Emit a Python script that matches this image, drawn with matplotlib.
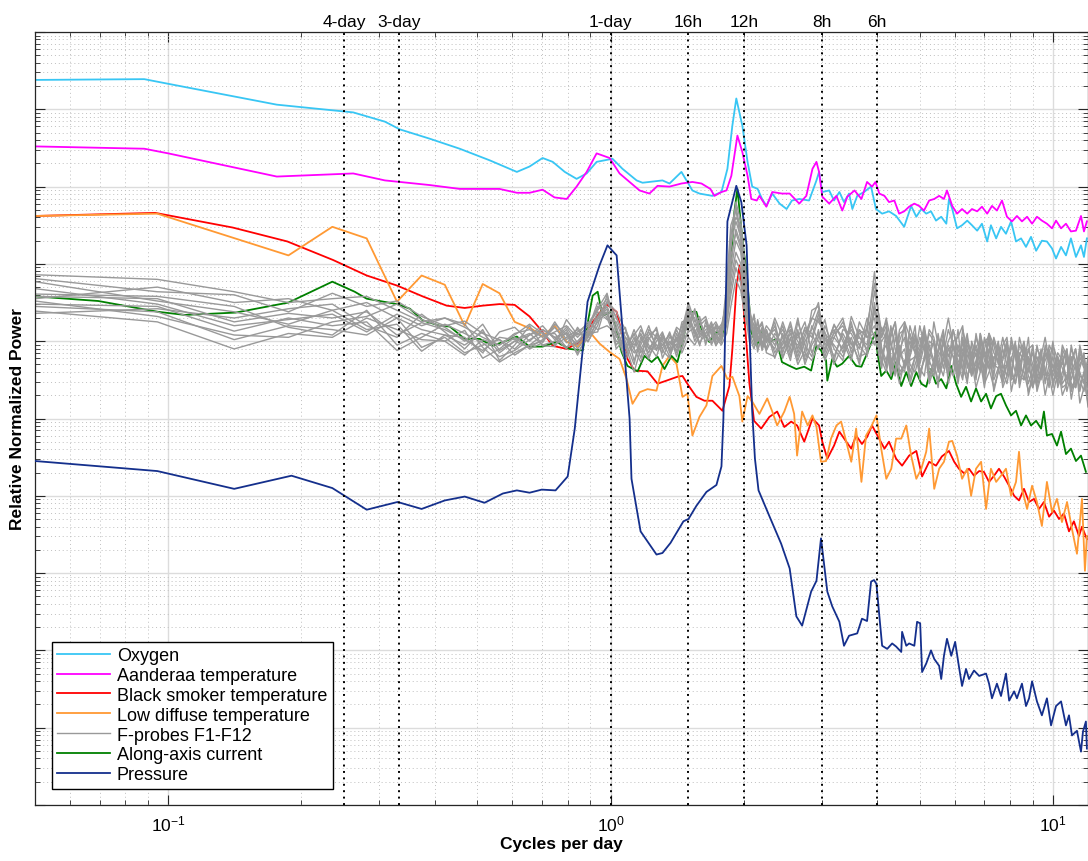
import numpy as np
import matplotlib
matplotlib.use('Agg')
import matplotlib.pyplot as plt
from matplotlib.ticker import LogLocator, NullFormatter, FixedLocator

# spectra: frequency in cycles per day, power as log10(relative normalized power)
oxygen_freq = [0.050, 0.0883, 0.100, 0.176, 0.262, 0.309, 0.334, 0.390, 0.456, 0.533,
	0.614, 0.656, 0.702, 0.740, 0.788, 0.838, 0.883, 0.930, 1.010, 1.064,
	1.145, 1.181, 1.310, 1.359, 1.446, 1.531, 1.588, 1.699, 1.781, 1.837,
	1.885, 1.924, 1.985, 2.04, 2.09, 2.15, 2.20, 2.25, 2.32, 2.41,
	2.50, 2.57, 2.67, 2.81, 2.92, 2.96, 3.01, 3.12, 3.20, 3.29,
	3.37, 3.46, 3.52, 3.61, 3.74, 3.88, 3.98, 4.11, 4.26, 4.42,
	4.61, 4.78, 4.91, 5.04, 5.17, 5.30, 5.44, 5.59, 5.74, 5.82,
	5.92, 6.07, 6.23, 6.40, 6.56, 6.74, 6.91, 7.10, 7.24, 7.44,
	7.63, 7.83, 8.04, 8.25, 8.47, 8.69, 8.92, 9.16, 9.44, 9.69,
	9.95, 10.16, 10.43, 10.70, 10.98, 11.27, 11.57, 11.75, 11.93]
oxygen_log10p = [-0.62, -0.61, -0.67, -0.94, -1.04, -1.16, -1.26, -1.38, -1.51, -1.66,
	-1.81, -1.74, -1.63, -1.68, -1.81, -1.90, -1.83, -1.68, -1.64, -1.77,
	-1.92, -1.95, -1.92, -1.96, -1.81, -2.05, -2.09, -2.12, -2.07, -1.77,
	-1.21, -0.86, -1.21, -1.68, -2.00, -2.03, -2.16, -2.25, -2.09, -2.22,
	-2.29, -2.18, -2.16, -2.18, -1.92, -1.81, -2.07, -2.05, -2.18, -2.07,
	-2.20, -2.09, -2.29, -2.12, -2.07, -2.00, -2.29, -2.35, -2.32, -2.38,
	-2.52, -2.25, -2.39, -2.29, -2.35, -2.32, -2.44, -2.39, -2.48, -2.16,
	-2.29, -2.54, -2.50, -2.44, -2.50, -2.57, -2.48, -2.71, -2.50, -2.67,
	-2.52, -2.61, -2.45, -2.71, -2.67, -2.78, -2.65, -2.83, -2.70, -2.71,
	-2.80, -2.93, -2.78, -2.89, -2.67, -2.91, -2.76, -2.91, -2.67]

aanderaa_freq = [0.050, 0.0883, 0.100, 0.176, 0.262, 0.309, 0.334, 0.390, 0.456, 0.561,
	0.614, 0.656, 0.702, 0.747, 0.796, 0.838, 0.883, 0.930, 0.995, 1.048,
	1.104, 1.163, 1.224, 1.277, 1.359, 1.446, 1.531, 1.605, 1.681, 1.717,
	1.781, 1.828, 1.875, 1.935, 1.985, 2.04, 2.08, 2.14, 2.17, 2.25,
	2.32, 2.44, 2.54, 2.67, 2.77, 2.86, 2.92, 2.96, 3.01, 3.12,
	3.24, 3.34, 3.43, 3.56, 3.69, 3.80, 3.90, 3.97, 4.05, 4.16,
	4.26, 4.38, 4.49, 4.61, 4.73, 4.86, 4.98, 5.11, 5.25, 5.39,
	5.53, 5.67, 5.76, 5.92, 6.07, 6.23, 6.40, 6.56, 6.74, 6.91,
	7.10, 7.28, 7.47, 7.67, 7.87, 8.08, 8.29, 8.51, 8.74, 8.97,
	9.20, 9.44, 9.69, 9.95, 10.16, 10.43, 10.70, 10.98, 11.27, 11.57,
	11.75, 11.93]
aanderaa_log10p = [-1.48, -1.51, -1.57, -1.87, -1.83, -1.92, -1.94, -1.98, -2.03, -2.03,
	-2.08, -2.08, -2.04, -2.14, -2.16, -2.00, -1.81, -1.57, -1.63, -1.83,
	-1.94, -2.05, -2.09, -1.99, -2.00, -1.96, -1.94, -1.96, -2.03, -2.12,
	-2.07, -2.05, -1.86, -1.34, -1.55, -1.86, -2.16, -2.18, -2.12, -2.26,
	-2.07, -2.09, -2.09, -2.22, -2.12, -1.77, -1.68, -1.81, -2.13, -2.22,
	-2.12, -2.31, -2.13, -2.05, -2.16, -1.94, -2.00, -1.94, -2.09, -2.12,
	-2.20, -2.18, -2.35, -2.32, -2.26, -2.22, -2.25, -2.31, -2.18, -2.16,
	-2.12, -2.16, -2.05, -2.25, -2.35, -2.29, -2.35, -2.29, -2.32, -2.26,
	-2.35, -2.25, -2.31, -2.18, -2.39, -2.45, -2.38, -2.45, -2.39, -2.48,
	-2.39, -2.44, -2.48, -2.54, -2.44, -2.54, -2.48, -2.58, -2.57, -2.38,
	-2.58, -2.45]

smoker_freq = [0.050, 0.0935, 0.140, 0.186, 0.236, 0.281, 0.329, 0.376, 0.426, 0.468,
	0.514, 0.561, 0.607, 0.656, 0.702, 0.740, 0.796, 0.851, 0.911, 0.979,
	1.032, 1.059, 1.092, 1.133, 1.212, 1.277, 1.338, 1.416, 1.454, 1.507,
	1.563, 1.630, 1.699, 1.790, 1.856, 1.885, 1.924, 1.955, 1.985, 2.03,
	2.06, 2.09, 2.11, 2.19, 2.285, 2.38, 2.47, 2.56, 2.64, 2.74,
	2.86, 2.96, 3.01, 3.09, 3.20, 3.29, 3.41, 3.50, 3.59, 3.70,
	3.80, 3.90, 4.01, 4.16, 4.26, 4.42, 4.56, 4.73, 4.91, 5.06,
	5.25, 5.44, 5.61, 5.82, 5.98, 6.13, 6.30, 6.46, 6.63, 6.81,
	6.98, 7.17, 7.36, 7.55, 7.75, 7.96, 8.17, 8.38, 8.60, 8.83,
	9.06, 9.30, 9.54, 9.80, 10.05, 10.32, 10.59, 10.87, 11.15, 11.45,
	11.63, 11.93]
smoker_log10p = [-2.38, -2.34, -2.53, -2.71, -2.95, -3.15, -3.28, -3.42, -3.54, -3.57,
	-3.54, -3.52, -3.53, -3.68, -3.88, -4.06, -4.10, -4.01, -3.75, -3.52,
	-3.62, -3.88, -4.23, -4.38, -4.39, -4.55, -4.51, -4.46, -4.45, -4.59,
	-4.72, -4.77, -4.77, -4.90, -4.58, -4.10, -3.32, -3.02, -3.36, -4.06,
	-4.55, -4.83, -5.03, -5.13, -4.98, -4.91, -5.11, -5.04, -5.09, -5.30,
	-5.00, -5.09, -5.30, -5.52, -5.35, -5.17, -5.30, -5.39, -5.22, -5.33,
	-5.24, -5.09, -5.22, -5.39, -5.30, -5.52, -5.61, -5.48, -5.42, -5.75,
	-5.56, -5.61, -5.49, -5.42, -5.56, -5.65, -5.71, -5.65, -5.74, -5.68,
	-5.69, -5.82, -5.74, -5.65, -5.75, -5.87, -6.00, -6.06, -5.91, -6.08,
	-6.04, -6.17, -6.08, -6.27, -6.19, -6.30, -6.23, -6.46, -6.33, -6.52,
	-6.40, -6.56]

diffuse_freq = [0.050, 0.0945, 0.187, 0.235, 0.281, 0.329, 0.374, 0.422, 0.468, 0.514,
	0.561, 0.607, 0.667, 0.702, 0.747, 0.796, 0.842, 0.897, 0.944, 0.995,
	1.048, 1.087, 1.121, 1.163, 1.212, 1.270, 1.310, 1.359, 1.409, 1.454,
	1.492, 1.531, 1.588, 1.647, 1.699, 1.781, 1.837, 1.885, 1.955, 1.985,
	2.04, 2.09, 2.17, 2.26, 2.32, 2.38, 2.47, 2.54, 2.60, 2.64,
	2.71, 2.79, 2.86, 2.92, 2.99, 3.07, 3.15, 3.24, 3.32, 3.41,
	3.50, 3.59, 3.69, 3.78, 3.88, 3.99, 4.09, 4.20, 4.31, 4.42,
	4.54, 4.66, 4.78, 4.91, 5.04, 5.17, 5.25, 5.39, 5.53, 5.67,
	5.82, 5.92, 6.07, 6.23, 6.40, 6.53, 6.70, 6.88, 7.06, 7.24,
	7.44, 7.63, 7.83, 8.04, 8.25, 8.38, 8.51, 8.74, 8.97, 9.20,
	9.44, 9.69, 9.95, 10.21, 10.48, 10.76, 11.04, 11.33, 11.63, 11.81,
	11.93]
diffuse_log10p = [-2.38, -2.35, -2.89, -2.52, -2.67, -3.49, -3.15, -3.27, -3.80, -3.26,
	-3.38, -3.75, -3.85, -3.94, -3.80, -4.01, -4.07, -3.88, -4.03, -4.14,
	-4.23, -4.49, -4.81, -4.66, -4.62, -4.64, -4.32, -4.19, -4.29, -4.72,
	-4.68, -5.22, -4.98, -4.83, -4.45, -4.32, -4.49, -4.46, -4.71, -5.04,
	-4.71, -4.78, -4.94, -4.74, -4.91, -5.09, -4.91, -4.72, -4.94, -5.48,
	-4.91, -5.09, -4.96, -5.11, -5.56, -5.55, -5.26, -5.09, -5.04, -5.30,
	-5.56, -5.13, -5.82, -5.22, -5.11, -4.96, -5.39, -5.78, -5.65, -5.26,
	-5.26, -5.09, -5.48, -5.78, -5.65, -5.43, -5.13, -5.91, -5.65, -5.56,
	-5.30, -5.29, -5.48, -5.78, -5.65, -6.00, -5.65, -5.56, -6.17, -5.65,
	-5.82, -5.74, -5.65, -6.00, -5.82, -5.43, -5.91, -6.17, -5.87, -6.08,
	-6.39, -5.82, -6.21, -6.04, -6.34, -6.08, -6.43, -6.75, -6.04, -6.97,
	-6.52]

current_freq = [0.050, 0.0695, 0.0949, 0.109, 0.142, 0.187, 0.235, 0.264, 0.281, 0.329,
	0.352, 0.376, 0.411, 0.433, 0.468, 0.506, 0.541, 0.571, 0.614, 0.656,
	0.702, 0.755, 0.808, 0.865, 0.911, 0.935, 0.959, 1.005, 1.032, 1.059,
	1.092, 1.151, 1.193, 1.238, 1.277, 1.324, 1.373, 1.416, 1.454, 1.507,
	1.563, 1.613, 1.672, 1.735, 1.790, 1.856, 1.905, 1.935, 1.975, 1.996,
	2.03, 2.08, 2.14, 2.20, 2.285, 2.37, 2.44, 2.54, 2.63, 2.74,
	2.84, 2.92, 2.99, 3.07, 3.09, 3.17, 3.25, 3.34, 3.46, 3.59,
	3.69, 3.78, 3.88, 3.97, 4.01, 4.09, 4.20, 4.31, 4.42, 4.54,
	4.66, 4.78, 4.91, 5.04, 5.17, 5.30, 5.44, 5.59, 5.74, 5.89,
	6.04, 6.20, 6.36, 6.53, 6.70, 6.88, 7.06, 7.24, 7.44, 7.63,
	7.83, 8.04, 8.25, 8.47, 8.69, 8.92, 9.16, 9.40, 9.54, 9.69,
	9.95, 10.21, 10.43, 10.70, 10.98, 11.27, 11.57, 11.87]
current_log10p = [-3.42, -3.48, -3.62, -3.66, -3.63, -3.50, -3.23, -3.36, -3.45, -3.52,
	-3.58, -3.73, -3.80, -3.81, -3.97, -3.97, -4.06, -4.01, -3.94, -4.07,
	-4.07, -4.01, -4.10, -4.12, -3.41, -3.36, -3.67, -3.62, -3.88, -4.14,
	-4.32, -4.39, -4.19, -4.27, -4.20, -4.36, -4.19, -4.27, -4.01, -3.62,
	-3.62, -3.88, -4.01, -3.88, -3.94, -3.28, -2.32, -2.03, -2.54, -2.80,
	-3.10, -3.88, -4.06, -3.88, -4.01, -3.97, -4.27, -4.32, -4.36, -4.33,
	-4.38, -4.06, -4.12, -4.25, -4.51, -4.23, -4.33, -4.29, -4.19, -4.32,
	-4.33, -4.19, -4.03, -3.88, -4.14, -4.45, -4.38, -4.49, -4.27, -4.58,
	-4.40, -4.58, -4.40, -4.55, -4.59, -4.36, -4.55, -4.49, -4.61, -4.32,
	-4.55, -4.72, -4.59, -4.78, -4.61, -4.78, -4.68, -4.87, -4.71, -4.68,
	-4.83, -4.96, -4.90, -5.09, -4.96, -5.09, -5.03, -5.13, -4.91, -5.22,
	-5.20, -5.35, -5.17, -5.46, -5.39, -5.55, -5.48, -5.69]

pressure_freq = [0.050, 0.0945, 0.141, 0.190, 0.235, 0.281, 0.330, 0.374, 0.422, 0.468,
	0.519, 0.571, 0.614, 0.656, 0.699, 0.751, 0.800, 0.830, 0.887, 0.944,
	0.984, 1.032, 1.064, 1.104, 1.115, 1.169, 1.270, 1.310, 1.366, 1.461,
	1.500, 1.563, 1.647, 1.735, 1.781, 1.799, 1.837, 1.924, 1.975, 2.03,
	2.09, 2.12, 2.16, 2.30, 2.43, 2.54, 2.63, 2.71, 2.84, 2.92,
	2.99, 3.09, 3.17, 3.29, 3.37, 3.46, 3.61, 3.70, 3.80, 3.88,
	3.94, 3.99, 4.05, 4.11, 4.22, 4.33, 4.42, 4.54, 4.56, 4.66,
	4.73, 4.86, 4.93, 5.01, 5.06, 5.17, 5.30, 5.39, 5.53, 5.59,
	5.67, 5.76, 5.89, 6.01, 6.13, 6.23, 6.36, 6.46, 6.63, 6.81,
	7.06, 7.17, 7.28, 7.47, 7.63, 7.83, 7.96, 8.17, 8.29, 8.51,
	8.69, 8.83, 8.97, 9.20, 9.44, 9.69, 9.90, 10.16, 10.43, 10.70,
	10.87, 11.04, 11.33, 11.57, 11.69, 11.87, 11.93]
pressure_log10p = [-5.55, -5.68, -5.91, -5.74, -5.90, -6.18, -6.08, -6.17, -6.06, -6.01,
	-6.09, -5.97, -5.93, -5.96, -5.92, -5.93, -5.75, -5.13, -3.49, -3.02,
	-2.76, -2.89, -3.84, -5.00, -5.78, -6.46, -6.76, -6.74, -6.61, -6.33,
	-6.30, -6.13, -5.95, -5.86, -5.62, -5.00, -2.45, -1.99, -2.20, -2.76,
	-4.91, -5.52, -5.93, -6.30, -6.62, -6.94, -7.56, -7.68, -7.24, -7.10,
	-6.55, -7.24, -7.43, -7.63, -7.94, -7.81, -7.78, -7.59, -7.62, -7.11,
	-7.09, -7.14, -7.55, -7.94, -7.98, -7.91, -7.95, -8.02, -7.76, -7.94,
	-7.91, -7.94, -7.63, -7.65, -8.28, -8.17, -8.00, -8.11, -8.20, -8.37,
	-8.07, -7.85, -8.07, -7.89, -8.21, -8.46, -8.24, -8.37, -8.26, -8.33,
	-8.30, -8.43, -8.62, -8.43, -8.59, -8.30, -8.65, -8.53, -8.62, -8.43,
	-8.72, -8.62, -8.40, -8.66, -8.84, -8.62, -8.97, -8.72, -8.66, -8.97,
	-8.84, -9.10, -9.04, -9.31, -9.05, -8.92, -9.27]

# F-probes F1-F12 share one frequency grid (plus extra high-frequency samples)
fprobe_freq = [0.050, 0.0945, 0.141, 0.187, 0.235, 0.281, 0.329, 0.374, 0.422, 0.468,
	0.514, 0.561, 0.607, 0.656, 0.702, 0.748, 0.795, 0.842, 0.889, 0.935, 0.982,
	1.03, 1.08, 1.13, 1.17, 1.22, 1.27, 1.31, 1.36, 1.41, 1.45,
	1.50, 1.55, 1.59, 1.64, 1.69, 1.73, 1.78, 1.83, 1.87, 1.92,
	1.97, 2.01, 2.06, 2.11, 2.15, 2.20, 2.25,
	2.35, 2.45, 2.55, 2.65, 2.75, 2.85, 2.95, 3.05, 3.20, 3.35, 3.50, 3.65, 3.80, 3.95, 4.10,
	4.30, 4.50, 4.75, 5.00, 5.25, 5.50, 5.80, 6.10, 6.40, 6.70,
	7.00, 7.35, 7.70, 8.05, 8.40, 8.80, 9.20, 9.60, 10.0, 10.5,
	11.0, 11.5, 12.0]
fprobe_freq_extra = [4.20, 4.40, 4.62, 4.88, 5.12, 5.38, 5.65, 5.95, 6.25, 6.55,
	6.85, 7.17, 7.52, 7.87, 8.22, 8.60, 9.00, 9.40, 9.80, 10.25,
	10.75, 11.25, 11.75]

f1_log10p = [-3.14, -3.20, -3.36, -3.50, -3.45, -3.42, -3.60, -3.75, -3.70, -3.82, -3.95, -4.05, -3.90, -3.85, -3.95, -3.88, -3.80, -3.95, -3.80, -3.60, -3.45,
	-3.70, -3.95, -4.05, -3.90, -4.10, -3.95, -4.05, -3.92, -4.08, -3.90, -3.55, -3.80, -3.72, -3.95, -3.85, -3.98, -3.80, -3.50, -2.80, -2.25, -2.60, -3.20, -3.70, -3.85, -4.00, -3.82, -3.95,
	-3.85, -4.10, -3.90, -4.20, -3.95, -3.72, -3.50, -4.05, -3.85, -4.15, -3.80, -4.05, -3.90, -3.10, -4.10,
	-3.80, -4.25, -3.95, -4.35, -4.00, -4.40, -3.85, -4.30, -4.05, -4.45, -4.00, -4.30, -4.55, -4.10, -4.45, -4.20, -4.60, -4.15, -4.50, -4.25, -4.65, -4.30, -4.55]
f2_log10p = [-3.19, -3.36, -3.40, -3.62, -3.38, -3.55, -3.48, -3.68, -3.80, -3.74, -3.90, -3.98, -4.10, -3.92, -3.85, -3.95, -3.90, -4.05, -3.88, -3.70, -3.55,
	-3.85, -4.10, -3.90, -4.15, -3.95, -4.12, -3.90, -4.10, -3.85, -4.02, -3.70, -3.90, -3.75, -3.68, -3.92, -3.82, -3.95, -3.35, -2.60, -2.40, -2.50, -2.95, -3.55, -3.95, -3.75, -4.05, -3.88,
	-4.05, -3.80, -4.15, -3.90, -4.25, -4.00, -3.70, -3.95, -4.20, -3.90, -4.10, -3.85, -4.15, -3.55, -3.95,
	-4.20, -3.90, -4.40, -3.95, -4.30, -4.05, -4.45, -3.95, -4.35, -4.10, -4.50, -4.05, -4.25, -4.50, -4.15, -4.55, -4.20, -4.45, -4.15, -4.60, -4.25, -4.50, -4.35]
f3_log10p = [-3.23, -3.48, -3.62, -3.78, -3.60, -3.50, -3.70, -3.85, -3.92, -4.05, -3.88, -4.15, -4.00, -4.08, -3.98, -3.82, -4.02, -3.90, -3.95, -3.75, -3.62,
	-3.95, -3.82, -4.25, -4.00, -3.88, -4.05, -4.15, -3.95, -4.00, -3.80, -3.62, -3.70, -3.95, -3.85, -3.80, -4.02, -3.88, -3.60, -3.10, -2.70, -2.85, -3.40, -3.80, -3.70, -3.95, -3.90, -4.10,
	-3.70, -3.95, -4.25, -3.75, -4.05, -4.20, -3.85, -4.25, -3.95, -3.75, -4.02, -4.25, -3.80, -3.70, -4.30,
	-4.05, -4.45, -4.10, -4.50, -3.85, -4.25, -4.10, -4.55, -3.90, -4.30, -4.15, -4.60, -4.05, -4.40, -4.20, -4.35, -4.05, -4.70, -4.30, -4.10, -4.55, -4.20, -4.70]
f4_log10p = [-3.42, -3.45, -3.75, -3.64, -3.70, -3.62, -3.92, -3.76, -3.85, -3.98, -4.12, -3.95, -3.98, -3.90, -4.05, -4.00, -3.85, -4.10, -3.92, -3.68, -3.50,
	-3.68, -4.00, -4.30, -3.95, -4.15, -3.90, -4.00, -4.20, -3.95, -4.10, -3.85, -3.62, -3.85, -4.00, -3.95, -3.78, -4.00, -3.80, -3.30, -2.95, -3.10, -3.55, -3.90, -4.05, -3.85, -3.78, -4.15,
	-4.20, -4.00, -3.80, -4.10, -3.82, -3.90, -4.10, -3.80, -4.10, -4.25, -3.68, -3.95, -4.05, -3.35, -3.88,
	-4.35, -4.00, -4.25, -3.80, -4.45, -3.95, -4.30, -4.10, -4.50, -3.95, -4.35, -4.15, -4.45, -4.00, -4.55, -4.10, -4.45, -4.25, -4.60, -4.35, -4.05, -4.65, -4.25]
f5_log10p = [-3.52, -3.55, -3.87, -3.70, -3.80, -3.75, -4.12, -3.95, -3.78, -3.90, -4.02, -4.20, -4.12, -3.98, -3.88, -4.05, -3.95, -3.85, -4.00, -3.80, -3.40,
	-3.80, -4.20, -3.95, -4.22, -3.85, -3.95, -4.10, -3.88, -4.15, -3.95, -3.60, -3.95, -3.80, -3.72, -4.05, -3.92, -3.85, -3.45, -2.65, -2.20, -2.45, -3.05, -3.62, -3.80, -4.10, -3.95, -3.80,
	-3.95, -4.22, -3.95, -4.30, -4.12, -3.60, -3.55, -4.15, -3.78, -4.00, -4.25, -3.75, -3.95, -3.80, -4.15,
	-3.95, -4.30, -3.80, -4.20, -4.10, -4.50, -4.00, -4.20, -4.45, -4.15, -3.95, -4.50, -4.20, -4.65, -4.05, -4.45, -4.30, -4.05, -4.45, -4.70, -4.30, -4.45, -4.80]
f6_log10p = [-3.55, -3.62, -3.98, -3.80, -3.85, -3.92, -3.70, -4.08, -3.95, -4.15, -4.05, -3.98, -4.18, -4.05, -3.92, -3.90, -4.08, -4.00, -3.85, -3.55, -3.65,
	-4.05, -3.88, -4.10, -3.85, -4.05, -4.20, -3.95, -4.05, -3.82, -3.88, -3.75, -3.85, -4.02, -3.90, -3.85, -3.88, -3.78, -3.70, -3.00, -2.55, -2.75, -3.35, -3.75, -3.90, -3.82, -4.12, -3.95,
	-4.10, -3.75, -4.05, -3.95, -3.75, -4.15, -3.95, -3.72, -4.25, -3.85, -3.90, -4.10, -3.70, -3.95, -4.00,
	-4.25, -4.10, -4.50, -4.05, -4.25, -4.15, -4.55, -3.85, -4.20, -4.50, -4.25, -3.95, -4.40, -4.25, -4.60, -3.95, -4.35, -4.55, -4.00, -4.40, -4.75, -4.10, -4.50]
f7_log10p = [-3.61, -3.75, -4.10, -3.90, -3.95, -3.70, -3.85, -3.98, -4.00, -3.86, -4.22, -4.10, -3.95, -4.10, -4.02, -3.78, -3.92, -4.15, -3.95, -3.62, -3.72,
	-3.75, -4.05, -4.40, -4.10, -3.92, -3.85, -4.22, -4.00, -4.12, -3.85, -3.50, -3.75, -3.68, -4.05, -3.78, -4.05, -3.95, -3.25, -2.50, -2.30, -2.70, -3.10, -3.95, -4.10, -3.90, -3.85, -4.02,
	-3.80, -4.15, -3.85, -4.25, -4.00, -3.85, -3.60, -4.00, -3.95, -4.10, -3.75, -4.20, -4.15, -3.50, -4.25,
	-4.10, -4.40, -4.00, -4.45, -3.90, -4.35, -4.20, -4.40, -4.10, -4.25, -4.55, -4.20, -3.95, -4.50, -4.35, -4.65, -4.10, -4.40, -4.70, -4.15, -4.40, -4.80, -4.30]
f8_log10p = [-3.64, -3.58, -3.70, -3.58, -3.52, -3.80, -3.95, -3.65, -3.88, -4.10, -3.85, -4.25, -4.05, -3.80, -4.06, -4.07, -3.72, -3.92, -3.75, -3.85, -3.80,
	-3.90, -4.25, -4.00, -3.92, -4.20, -4.00, -3.88, -4.15, -3.95, -4.15, -3.95, -4.05, -3.92, -3.80, -3.88, -3.95, -4.05, -3.90, -3.55, -3.20, -3.35, -3.65, -3.88, -3.65, -4.00, -3.95, -3.85,
	-4.22, -3.90, -4.20, -3.85, -4.30, -4.05, -3.90, -4.20, -3.88, -3.70, -4.15, -3.90, -3.85, -4.05, -3.82,
	-4.45, -3.85, -4.30, -4.15, -4.50, -3.90, -4.10, -4.50, -4.25, -3.90, -4.40, -4.35, -4.60, -4.20, -3.95, -4.40, -4.65, -4.20, -4.35, -4.55, -4.20, -4.35, -4.60]
f9_log10p = [-3.45, -3.30, -3.50, -3.45, -3.60, -3.85, -3.78, -4.13, -3.92, -3.95, -4.15, -3.88, -3.82, -4.00, -3.85, -3.95, -4.10, -3.82, -4.01, -3.72, -3.58,
	-4.10, -3.95, -4.15, -4.05, -3.80, -4.10, -4.05, -3.90, -4.20, -3.95, -3.80, -3.58, -3.90, -3.95, -4.02, -3.80, -3.85, -3.55, -2.90, -2.60, -2.80, -3.25, -3.70, -4.00, -3.72, -4.00, -4.12,
	-3.90, -4.05, -3.75, -4.15, -3.90, -3.70, -3.75, -3.88, -4.30, -4.05, -3.85, -4.05, -4.20, -3.60, -4.10,
	-3.90, -4.20, -4.55, -4.10, -4.35, -4.20, -3.70, -4.35, -4.00, -4.60, -4.10, -4.45, -4.30, -3.95, -4.50, -4.25, -4.40, -3.95, -4.55, -4.30, -4.60, -4.15, -4.40]
f10_log10p = [-3.39, -3.42, -3.55, -3.82, -3.92, -3.60, -4.05, -3.90, -4.00, -4.18, -3.98, -4.05, -3.92, -3.78, -3.90, -4.05, -3.88, -4.18, -3.90, -3.88, -3.48,
	-3.62, -3.85, -4.10, -4.27, -3.98, -3.82, -4.12, -4.22, -3.90, -4.05, -3.65, -3.88, -4.06, -3.75, -3.90, -4.06, -3.92, -3.65, -3.20, -2.85, -3.00, -3.45, -3.82, -3.78, -4.14, -3.88, -3.92,
	-4.00, -3.85, -4.10, -3.70, -4.15, -4.25, -4.05, -4.10, -3.80, -3.95, -4.20, -3.85, -3.95, -3.90, -4.35,
	-4.30, -4.05, -4.20, -4.40, -4.05, -4.60, -4.30, -4.05, -4.55, -4.20, -4.45, -4.00, -4.50, -4.35, -4.30, -4.70, -4.25, -4.50, -4.20, -4.05, -4.50, -4.60, -4.85]
f11_log10p = [-3.32, -3.52, -3.80, -3.72, -3.65, -3.88, -3.65, -3.80, -3.70, -3.78, -4.08, -4.27, -4.15, -4.05, -4.00, -3.75, -3.98, -3.88, -3.78, -3.58, -3.38,
	-3.92, -4.15, -3.85, -4.08, -4.23, -3.92, -3.98, -4.02, -4.05, -3.75, -3.72, -4.00, -3.85, -3.90, -3.75, -3.92, -4.02, -3.40, -2.75, -2.45, -2.65, -3.15, -3.62, -3.95, -3.85, -3.75, -4.00,
	-3.75, -4.20, -3.98, -4.05, -3.85, -3.95, -3.65, -3.90, -4.05, -4.20, -3.95, -4.30, -3.80, -3.25, -3.95,
	-4.00, -4.55, -4.15, -4.30, -4.55, -4.10, -4.40, -4.25, -3.95, -4.40, -4.20, -4.65, -4.10, -4.45, -4.25, -4.10, -4.50, -4.35, -4.05, -4.50, -4.35, -4.05, -4.45]
f12_log10p = [-3.48, -3.68, -3.92, -3.95, -3.75, -3.68, -3.52, -3.72, -3.82, -4.00, -3.78, -4.12, -4.00, -3.92, -3.80, -3.98, -3.82, -4.02, -3.85, -3.50, -3.70,
	-4.00, -4.05, -3.92, -3.80, -4.10, -4.10, -3.92, -4.12, -3.98, -4.00, -3.88, -3.82, -3.72, -3.95, -3.82, -3.75, -3.90, -3.75, -3.40, -3.05, -3.25, -3.60, -4.00, -3.88, -3.95, -4.08, -3.85,
	-4.15, -3.95, -3.85, -4.00, -4.20, -3.80, -4.00, -4.10, -3.90, -3.80, -4.05, -3.95, -4.10, -4.00, -4.15,
	-4.40, -4.15, -3.90, -4.25, -4.20, -4.35, -4.05, -4.45, -4.30, -4.05, -4.60, -4.25, -4.35, -4.05, -4.40, -4.30, -4.55, -4.10, -4.40, -4.25, -4.10, -4.40, -4.20]

# values at fprobe_freq_extra
f1_extra = [-4.35, -4.10, -3.75, -4.15, -4.45, -4.05, -4.20, -4.05, -4.50, -4.15, -4.25, -3.95, -4.35, -4.30, -4.05, -4.50, -4.35, -4.40, -4.25, -4.45, -4.10, -4.45, -4.20]
f2_extra = [-3.80, -4.45, -3.85, -4.20, -4.10, -3.75, -4.20, -4.00, -3.80, -4.20, -4.30, -3.90, -4.30, -4.00, -4.45, -4.25, -4.35, -4.40, -4.05, -4.30, -4.55, -4.10, -4.65]
f3_extra = [-3.85, -4.20, -4.30, -3.80, -4.20, -3.95, -4.45, -4.20, -4.15, -4.40, -3.90, -4.35, -4.40, -3.95, -4.55, -4.00, -4.50, -4.30, -4.45, -4.55, -4.25, -4.60, -4.35]
f4_extra = [-3.75, -4.15, -3.80, -4.20, -4.05, -4.25, -4.15, -3.85, -4.35, -4.20, -4.15, -3.90, -4.25, -4.30, -4.15, -4.35, -4.05, -4.40, -4.15, -4.20, -4.50, -4.35, -4.40]
f5_extra = [-4.30, -3.75, -4.40, -4.05, -3.85, -4.30, -4.25, -3.85, -4.10, -4.30, -4.40, -4.20, -4.35, -4.00, -4.40, -4.20, -4.60, -4.50, -4.20, -4.30, -4.55, -4.10, -4.50]
f6_extra = [-3.90, -4.40, -3.95, -4.20, -3.80, -4.40, -3.90, -4.30, -4.45, -4.05, -3.95, -4.35, -4.15, -4.55, -4.00, -4.30, -4.60, -4.10, -4.30, -4.60, -4.25, -4.45, -4.30]
f7_extra = [-4.40, -3.85, -4.30, -4.15, -4.20, -4.00, -3.95, -4.00, -3.85, -4.45, -4.00, -4.40, -4.25, -4.20, -4.05, -4.40, -4.45, -4.20, -4.45, -4.40, -4.65, -4.25, -4.60]
f8_extra = [-4.00, -4.20, -3.75, -4.40, -3.90, -4.30, -4.35, -4.05, -3.95, -4.45, -4.20, -4.10, -4.05, -4.45, -4.40, -4.20, -4.05, -4.45, -4.10, -4.20, -4.45, -4.60, -4.15]
f9_extra = [-4.25, -3.75, -4.10, -4.30, -3.85, -4.45, -4.05, -4.05, -4.20, -4.25, -4.40, -3.90, -4.05, -4.45, -4.20, -4.05, -4.60, -4.20, -4.25, -4.35, -4.10, -4.50, -4.30]
f10_extra = [-3.90, -4.40, -4.35, -3.95, -4.25, -4.25, -4.00, -4.45, -4.25, -4.00, -4.05, -4.25, -4.20, -4.05, -4.55, -4.10, -4.45, -4.15, -4.40, -4.55, -4.20, -4.30, -4.40]
f11_extra = [-3.70, -4.30, -4.25, -3.90, -4.05, -4.35, -3.85, -4.05, -4.35, -4.20, -3.90, -4.00, -4.40, -4.30, -4.05, -4.50, -4.30, -4.20, -4.60, -4.25, -4.15, -4.60, -4.30]
f12_extra = [-4.05, -3.95, -4.30, -4.10, -3.95, -4.00, -4.25, -4.20, -4.00, -4.30, -4.25, -4.10, -4.00, -4.30, -4.20, -4.10, -4.15, -4.35, -4.30, -4.15, -4.50, -4.25, -4.55]

fprobe_main = [f1_log10p, f2_log10p, f3_log10p, f4_log10p, f5_log10p, f6_log10p,
	f7_log10p, f8_log10p, f9_log10p, f10_log10p, f11_log10p, f12_log10p]
fprobe_extra = [f1_extra, f2_extra, f3_extra, f4_extra, f5_extra, f6_extra,
	f7_extra, f8_extra, f9_extra, f10_extra, f11_extra, f12_extra]

# tidal / inertial periods marked on top
period_freq = [0.25, 0.3333, 1.0, 1.5, 2.0, 3.0, 4.0]
period_labels = ['4-day', '3-day', '1-day', '16h', '12h', '8h', '6h']

legend_labels = ['Oxygen', 'Aanderaa temperature', 'Black smoker temperature',
	'Low diffuse temperature', 'F-probes F1-F12', 'Along-axis current', 'Pressure']


def draw(ax, freq, logp, color, lw, z):
	n = min(len(freq), len(logp))
	f = np.array(freq[:n])
	p = 10.0 ** np.array(logp[:n])
	order = np.argsort(f, kind='stable')
	return ax.plot(f[order], p[order], color=color, lw=lw, zorder=z, solid_joinstyle='round')[0]


def main():
	plt.rcParams['font.family'] = ['Liberation Sans', 'DejaVu Sans']
	plt.rcParams['mathtext.fontset'] = 'custom'
	plt.rcParams['mathtext.rm'] = 'Liberation Sans'
	plt.rcParams['mathtext.it'] = 'Liberation Sans:italic'
	plt.rcParams['mathtext.bf'] = 'Liberation Sans:bold'

	fig = plt.figure(figsize=(10.88, 8.62), dpi=100)
	ax = fig.add_axes([35 / 1088, 56 / 862, 1053 / 1088, 773 / 862])
	ax.set_xscale('log')
	ax.set_yscale('log')

	h_oxy = draw(ax, oxygen_freq, oxygen_log10p, '#38c6f4', 1.3, 2.0)
	h_aan = draw(ax, aanderaa_freq, aanderaa_log10p, '#ff00ff', 1.3, 2.1)
	h_smk = draw(ax, smoker_freq, smoker_log10p, '#ff0000', 1.3, 2.2)
	h_dif = draw(ax, diffuse_freq, diffuse_log10p, '#ff9933', 1.3, 2.3)
	h_cur = draw(ax, current_freq, current_log10p, '#008000', 1.3, 2.4)
	h_fp = None
	for main_vals, extra_vals in zip(fprobe_main, fprobe_extra):
		n = min(len(fprobe_freq), len(main_vals))
		m = min(len(fprobe_freq_extra), len(extra_vals))
		freq = fprobe_freq[:n] + fprobe_freq_extra[:m]
		vals = main_vals[:n] + extra_vals[:m]
		h = draw(ax, freq, vals, '#999999', 1.0, 2.5)
		if h_fp is None:
			h_fp = h
	h_pre = draw(ax, pressure_freq, pressure_log10p, '#142f8c', 1.3, 2.6)

	ax.set_xlim(0.05, 12)
	ax.set_ylim(1e-10, 1)

	# period markers
	for f, lab in zip(period_freq, period_labels):
		ax.axvline(f, color='black', ls=(0, (1, 2.3)), lw=1.4, zorder=2.8)
		ax.text(f, 1.004, lab, transform=ax.get_xaxis_transform(), ha='center',
			va='bottom', fontsize=12.5)

	ax.xaxis.set_major_locator(FixedLocator([0.1, 1, 10]))
	ax.set_xticklabels([r'$\mathdefault{10^{-1}}$', r'$\mathdefault{10^{0}}$', r'$\mathdefault{10^{1}}$'])
	ax.xaxis.set_minor_locator(LogLocator(base=10, subs=np.arange(2, 10), numticks=50))
	ax.xaxis.set_minor_formatter(NullFormatter())
	ax.yaxis.set_major_locator(LogLocator(base=10, numticks=30))
	ax.yaxis.set_minor_locator(LogLocator(base=10, subs=np.arange(2, 10), numticks=200))
	ax.yaxis.set_minor_formatter(NullFormatter())
	ax.tick_params(which='both', direction='in', top=True, right=True, color='#262626')
	ax.tick_params(which='major', length=7, width=0.8)
	ax.tick_params(which='minor', length=3.5, width=0.6)
	ax.tick_params(axis='y', which='both', labelleft=False)
	ax.tick_params(axis='x', labelsize=12.5, pad=6)

	ax.grid(True, which='major', color='#dcdcdc', lw=1.0, ls='-')
	ax.grid(True, which='minor', color='#bfbfbf', lw=0.7, ls=(0, (1, 3)))
	ax.set_axisbelow(True)
	for s in ax.spines.values():
		s.set_color('#262626')
		s.set_linewidth(0.9)

	ax.set_xlabel('Cycles per day', fontsize=12.5, fontweight='bold', labelpad=2)
	ax.set_ylabel('Relative Normalized Power', fontsize=12.5, fontweight='bold', labelpad=7)

	handles = [h_oxy, h_aan, h_smk, h_dif, h_fp, h_cur, h_pre]
	leg = ax.legend(handles, legend_labels, loc='lower left', bbox_to_anchor=(0.016, 0.021),
		fontsize=13, frameon=True, fancybox=False, framealpha=1, edgecolor='black',
		borderpad=0.3, labelspacing=0.16, handlelength=2.9, handletextpad=0.4,
		borderaxespad=0)
	leg.get_frame().set_linewidth(1.0)
	leg.set_zorder(5)

	fig.savefig('out.png', dpi=100)


if __name__ == '__main__':
	main()
